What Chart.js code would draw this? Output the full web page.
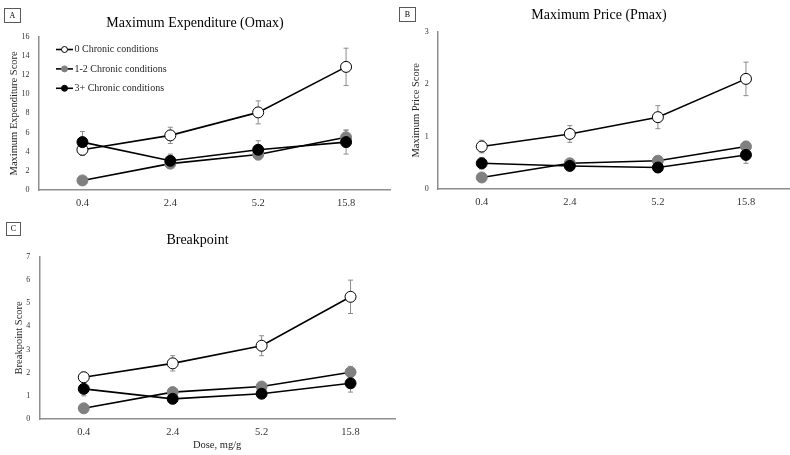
<!DOCTYPE html>
<html><head><meta charset="utf-8">
<script src="https://cdn.jsdelivr.net/npm/chart.js@4.4.1/dist/chart.umd.min.js"></script>
<style>
html,body{margin:0;padding:0;background:#fff;}
#wrap{position:relative;width:790px;height:455px;overflow:hidden;background:#fff;}
canvas{position:absolute;}
.box{position:absolute;border:1px solid #595959;font:8px "Liberation Serif",serif;color:#000;text-align:center;box-sizing:border-box;}
</style></head><body>
<div id="wrap">
<canvas id="cA" width="392" height="210" style="left:0;top:0"></canvas>
<canvas id="cB" width="382" height="210" style="left:408px;top:0"></canvas>
<canvas id="cC" width="406" height="245" style="left:0;top:210px"></canvas>
<div class="box" style="left:4px;top:8px;width:17px;height:15px;line-height:13px;">A</div>
<div class="box" style="left:399px;top:7px;width:17px;height:15px;line-height:13px;">B</div>
<div class="box" style="left:6px;top:222px;width:15px;height:14px;line-height:12px;">C</div>
</div>
<script>
// ---- data ----
const doses = ['0.4', '2.4', '5.2', '15.8'];
const seriesLabels = ['0 Chronic conditions', '1-2 Chronic conditions', '3+ Chronic conditions'];

const omax0 = [4.2, 5.7, 8.1, 12.85];
const omax0Err = [0.6, 0.85, 1.2, 1.95];
const omax12 = [1.0, 2.75, 3.7, 5.5];
const omax12Err = [0.2, 0.45, 0.55, 0.75];
const omax3 = [5.0, 3.05, 4.2, 5.0];
const omax3Err = [1.1, 0.7, 0.95, 1.25];

const pmax0 = [0.81, 1.05, 1.37, 2.1];
const pmax0Err = [0.12, 0.16, 0.22, 0.32];
const pmax12 = [0.22, 0.49, 0.54, 0.81];
const pmax12Err = [0.03, 0.08, 0.06, 0.1];
const pmax3 = [0.49, 0.44, 0.41, 0.65];
const pmax3Err = [0.11, 0.08, 0.07, 0.16];

const bp0 = [1.8, 2.4, 3.16, 5.27];
const bp0Err = [0.22, 0.33, 0.43, 0.72];
const bp12 = [0.46, 1.16, 1.4, 2.02];
const bp12Err = [0.08, 0.12, 0.12, 0.25];
const bp3 = [1.3, 0.87, 1.09, 1.54];
const bp3Err = [0.3, 0.12, 0.17, 0.38];

const titleA = 'Maximum Expenditure (Omax)';
const titleB = 'Maximum Price (Pmax)';
const titleC = 'Breakpoint';
const yTitleA = 'Maximum Expenditure Score';
const yTitleB = 'Maximum Price Score';
const yTitleC = 'Breakpoint Score';
const xTitleC = 'Dose, mg/g';

// ---- styling ----
const FONT = '"Liberation Serif", "Times New Roman", serif';
Chart.defaults.font.family = FONT;
const pointFill = ['#ffffff', '#808080', '#000000'];
const pointEdge = ['#000000', '#808080', '#000000'];
const axisColor = '#8e8e8e';

function makeDatasets(vals, errs) {
  return vals.map((v, i) => ({
    label: seriesLabels[i],
    data: v,
    errors: errs[i],
    borderColor: '#000000',
    borderWidth: 1.6,
    tension: 0,
    fill: false,
    pointRadius: 5.5,
    pointHoverRadius: 5.5,
    pointBackgroundColor: pointFill[i],
    pointBorderColor: pointEdge[i],
    pointBorderWidth: 1,
    order: 2 - i
  }));
}

const errorBars = {
  id: 'errorBars',
  beforeDatasetsDraw(chart) {
    const ctx = chart.ctx;
    const ys = chart.scales.y;
    chart.data.datasets.forEach((ds, di) => {
      const meta = chart.getDatasetMeta(di);
      meta.data.forEach((pt, i) => {
        const v = ds.data[i], e = ds.errors[i];
        const x = pt.x;
        const y1 = ys.getPixelForValue(v + e), y2 = ys.getPixelForValue(v - e);
        ctx.save();
        ctx.strokeStyle = '#8c8c8c';
        ctx.lineWidth = 1;
        ctx.beginPath();
        ctx.moveTo(x, y1); ctx.lineTo(x, y2);
        ctx.moveTo(x - 2.5, y1); ctx.lineTo(x + 2.5, y1);
        ctx.moveTo(x - 2.5, y2); ctx.lineTo(x + 2.5, y2);
        ctx.stroke();
        ctx.restore();
      });
    });
  }
};

const lineLegend = {
  id: 'lineLegend',
  afterDraw(chart, args, opts) {
    if (!opts || !opts.show) return;
    const ctx = chart.ctx;
    chart.data.datasets.forEach((ds, i) => {
      const yy = opts.y0 + i * opts.dy;
      const x0 = opts.x0;
      ctx.save();
      ctx.strokeStyle = '#000';
      ctx.lineWidth = 1.6;
      ctx.beginPath(); ctx.moveTo(x0, yy); ctx.lineTo(x0 + 17, yy); ctx.stroke();
      ctx.beginPath(); ctx.arc(x0 + 8.5, yy, 3, 0, Math.PI * 2);
      ctx.fillStyle = ds.pointBackgroundColor; ctx.fill();
      ctx.lineWidth = 1; ctx.strokeStyle = ds.pointBorderColor; ctx.stroke();
      ctx.fillStyle = '#262626';
      ctx.font = '10px ' + FONT;
      ctx.textBaseline = 'middle';
      ctx.textAlign = 'left';
      ctx.fillText(ds.label, x0 + 18.5, yy);
      ctx.restore();
    });
  }
};

function makeChart(id, cfg) {
  const scales = {
    x: {
      type: 'category',
      offset: true,
      grid: { display: false, drawTicks: false },
      border: { display: true, color: axisColor, width: 1.5 },
      ticks: { font: { size: 10.5 }, color: '#333333', padding: cfg.xPad },
      title: cfg.xTitle ? { display: true, text: cfg.xTitle, font: { size: 10.5 }, color: '#262626', padding: { top: 0, bottom: cfg.xTitlePad } } : { display: false },
      afterFit(s) { s.height = cfg.xH; s.paddingLeft = 0; s.paddingRight = 0; }
    },
    y: {
      min: 0, max: cfg.yMax,
      grid: { display: false, drawTicks: false },
      border: { display: true, color: axisColor, width: 1.5 },
      ticks: { stepSize: cfg.yStep, font: { size: 8 }, color: '#333333', padding: 9 },
      title: { display: true, text: cfg.yTitle, font: { size: 10.5 }, color: '#262626', padding: { top: cfg.yTitlePad, bottom: 0 } },
      afterFit(s) { s.width = cfg.yW; }
    }
  };
  return new Chart(document.getElementById(id), {
    type: 'line',
    data: { labels: doses, datasets: cfg.datasets },
    options: {
      responsive: false,
      animation: false,
      layout: { autoPadding: false, padding: { left: 0, right: cfg.padR, top: 0, bottom: 0 } },
      scales,
      plugins: {
        legend: { display: false },
        tooltip: { enabled: false },
        title: { display: true, text: cfg.title, color: '#000', font: { size: 14, weight: 'normal' }, padding: { top: cfg.tTop, bottom: cfg.tBot } },
        lineLegend: cfg.legend || { show: false }
      }
    },
    plugins: [errorBars, lineLegend]
  });
}

makeChart('cA', {
  datasets: makeDatasets([omax0, omax12, omax3], [omax0Err, omax12Err, omax3Err]),
  title: titleA, yTitle: yTitleA, yMax: 16, yStep: 2,
  yW: 38.5, yTitlePad: 7.5, xH: 20, xPad: 6.5, padR: 2, tTop: 14.5, tBot: 5.4,
  legend: { show: true, x0: 56, y0: 49.5, dy: 19.4 }
});
makeChart('cB', {
  datasets: makeDatasets([pmax0, pmax12, pmax3], [pmax0Err, pmax12Err, pmax3Err]),
  title: titleB, yTitle: yTitleB, yMax: 3, yStep: 1,
  yW: 29.7, yTitlePad: 2.4, xH: 21, xPad: 6.5, padR: 0, tTop: 7.4, tBot: 7.5
});
makeChart('cC', {
  datasets: makeDatasets([bp0, bp12, bp3], [bp0Err, bp12Err, bp3Err]),
  title: titleC, yTitle: yTitleC, yMax: 7, yStep: 1, xTitle: xTitleC, xTitlePad: 3.7,
  yW: 39.3, yTitlePad: 13, xH: 36, xPad: 6.5, padR: 11, tTop: 22.4, tBot: 7.5
});
</script>
</body></html>
